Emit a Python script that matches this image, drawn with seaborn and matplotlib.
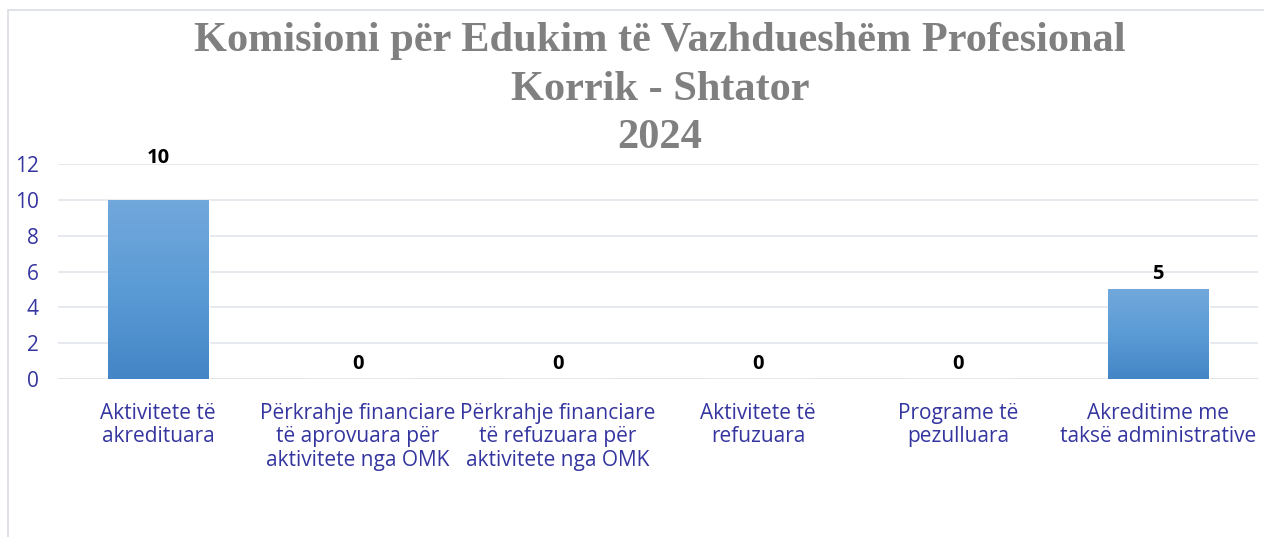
import numpy as np
import pandas as pd
import matplotlib
matplotlib.use("Agg")
import matplotlib.pyplot as plt
from matplotlib.lines import Line2D
from matplotlib.colors import LinearSegmentedColormap
import seaborn as sns

categories = [
    "Aktivitete të\nakredituara",
    "Përkrahje financiare\ntë aprovuara për\naktivitete nga OMK",
    "Përkrahje financiare\ntë refuzuara për\naktivitete nga OMK",
    "Aktivitete të\nrefuzuara",
    "Programe të\npezulluara",
    "Akreditime me\ntaksë administrative",
]
values = [10, 0, 0, 0, 0, 5]
yticks = [0, 2, 4, 6, 8, 10, 12]
title_lines = ["Komisioni për Edukim të Vazhdueshëm Profesional", "Korrik - Shtator", "2024"]

sns.set_theme(style="white")
plt.rcParams['font.family'] = ['Open Sans', 'DejaVu Sans']

W, H = 1264, 537
fig = plt.figure(figsize=(W / 100, H / 100), dpi=100)
ax = fig.add_axes([58 / W, 1 - 379 / H, 1200 / W, (379 - 164) / H])

df = pd.DataFrame({"cat": categories, "val": values})
sns.barplot(data=df, x="cat", y="val", ax=ax, color="#5b9bd5", width=0.505,
            saturation=1, zorder=3)

ax.set_ylim(0, 12)
ax.set_xlim(-0.5, len(categories) - 0.5)
ax.set_yticks(yticks)
ax.yaxis.grid(True, color="#dfe4ea", linewidth=1.1, zorder=0)
ax.set_axisbelow(True)
for s in ax.spines.values():
    s.set_visible(False)
ax.axhline(0, color="#dfe4ea", linewidth=1.1, zorder=1)
ax.set_xlabel("")
ax.set_ylabel("")
tick_color = "#3535a0"
ax.tick_params(axis="y", length=0, pad=14, labelsize=15, labelcolor=tick_color)
ax.tick_params(axis="x", length=0, pad=17, labelsize=15, labelcolor=tick_color)
for lab in ax.get_xticklabels():
    lab.set_linespacing(1.17)
    lab.set_va("top")

# gradient fill on bars
cmap = LinearSegmentedColormap.from_list("g", ["#4485c7", "#5b9bd5", "#72a8dc"])
grad = np.linspace(0, 1, 256).reshape(-1, 1)
for p in ax.patches:
    h = p.get_height()
    if h <= 0:
        continue
    x0 = p.get_x()
    w = p.get_width()
    im = ax.imshow(grad, cmap=cmap, origin="lower", aspect="auto",
                   extent=[x0, x0 + w, 0, h], zorder=4)
    im.set_clip_path(p)
ax.set_xlim(-0.5, len(categories) - 0.5)
ax.set_ylim(0, 12)

# data labels
for i, v in enumerate(values):
    off = 30 if v == max(values) else 11
    ax.annotate(str(v), (i, v), xytext=(0, off), textcoords="offset points",
                ha="center", va="center", fontsize=14.5, fontweight="bold",
                color="black", zorder=6)

# title
ys = [41, 90, 138]
for t, y in zip(title_lines, ys):
    fig.text(660 / W, 1 - y / H, t, ha="center", va="center",
             fontsize=30.5, fontweight="bold", color="#808080",
             family=["Liberation Serif", "DejaVu Serif"])

# border
bc = "#d9dee5"
fig.add_artist(Line2D([8 / W, 1.0], [1 - 9.5 / H, 1 - 9.5 / H], color=bc, lw=1.2,
                      transform=fig.transFigure))
fig.add_artist(Line2D([8 / W, 8 / W], [0, 1 - 9.5 / H], color=bc, lw=1.2,
                      transform=fig.transFigure))

fig.savefig("out.png", dpi=100)
